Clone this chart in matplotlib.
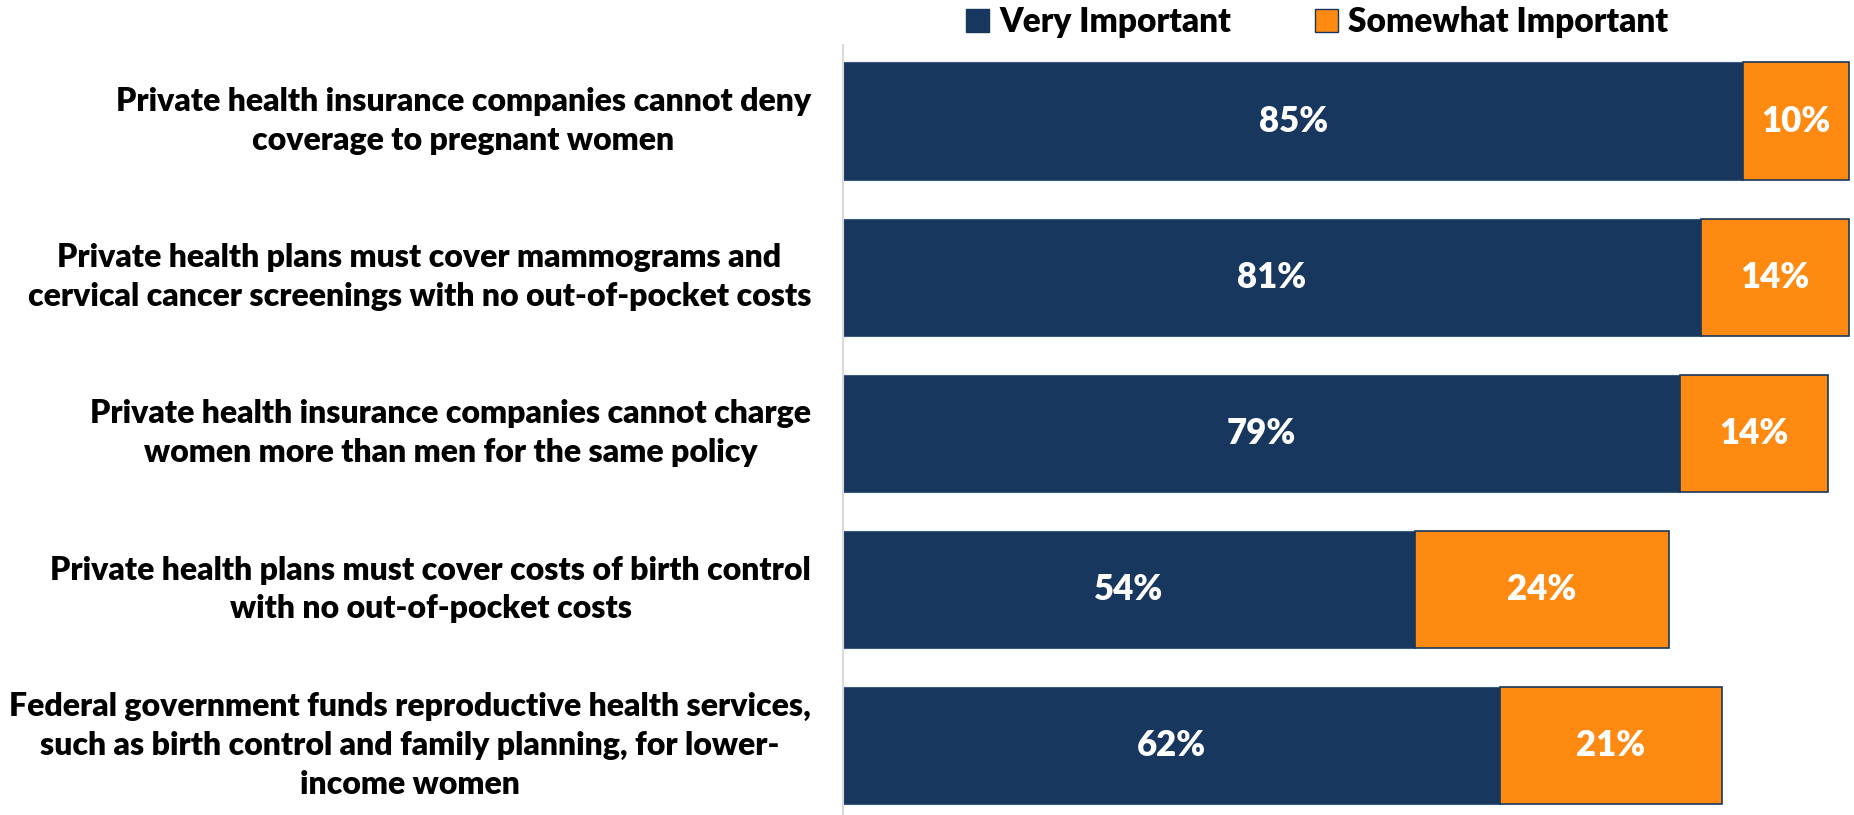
import matplotlib
matplotlib.use("Agg")
import matplotlib.pyplot as plt
from matplotlib.patches import Patch

categories = [
    "Private health insurance companies cannot deny\ncoverage to pregnant women",
    "Private health plans must cover mammograms and\ncervical cancer screenings with no out-of-pocket costs",
    "Private health insurance companies cannot charge\nwomen more than men for the same policy",
    "Private health plans must cover costs of birth control\nwith no out-of-pocket costs",
    "Federal government funds reproductive health services,\nsuch as birth control and family planning, for lower-\nincome women",
]
very_important = [85, 81, 79, 54, 62]
somewhat_important = [10, 14, 14, 24, 21]
series_names = ["Very Important", "Somewhat Important"]

NAVY = "#17375E"
ORANGE = "#FF8A12"
FONT = ["Lato", "DejaVu Sans"]
FS = 23
WEIGHT = "heavy"

fig = plt.figure(figsize=(18.54, 8.15), dpi=100)
ax = fig.add_axes([843 / 1854, 0.0, 1 - 843 / 1854, (815 - 45) / 815])

y = list(range(len(categories)))
h = 0.75
ax.barh(y, very_important, height=h, color=NAVY, edgecolor="#3d5a80", linewidth=0.8)
ax.barh(y, somewhat_important, left=very_important, height=h, color=ORANGE,
        edgecolor=NAVY, linewidth=1.2)

for i in y:
    v = very_important[i]
    s = somewhat_important[i]
    ax.text(v / 2, i, f"{v}%", ha="center", va="center", color="white",
            fontsize=25, fontweight=WEIGHT, family=FONT)
    ax.text(v + s / 2, i, f"{s}%", ha="center", va="center", color="white",
            fontsize=25, fontweight=WEIGHT, family=FONT)

ax.set_xlim(0, 95.47)
ax.set_ylim(4.445, -0.487)
ax.set_yticks(y)
ax.set_yticklabels(categories, fontsize=FS, fontweight=WEIGHT, family=FONT,
                   multialignment="center", linespacing=1.4)
for t in ax.get_yticklabels():
    t.set_verticalalignment("center")
ax.tick_params(axis="y", length=0, pad=23)
ax.set_xticks([])
for sp in ["top", "right", "bottom"]:
    ax.spines[sp].set_visible(False)
ax.spines["left"].set_color("#d9d9d9")
ax.spines["left"].set_linewidth(1.5)

handles = [Patch(facecolor=NAVY, edgecolor=NAVY),
           Patch(facecolor=ORANGE, edgecolor=NAVY)]
fig.legend(handles, series_names, loc="center", bbox_to_anchor=(1317 / 1854, 1 - 22 / 815),
           ncol=2, frameon=False, prop={"family": FONT, "weight": WEIGHT, "size": 24},
           handlelength=0.7, handleheight=0.7, handletextpad=0.3, columnspacing=2.5)

fig.savefig("out.png", dpi=100)
